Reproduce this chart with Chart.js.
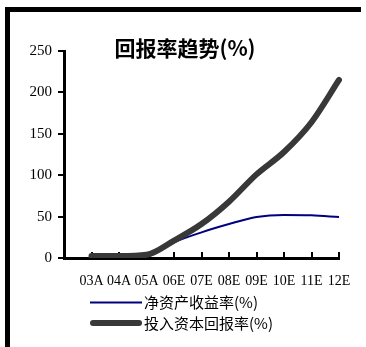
<!DOCTYPE html>
<html>
<head>
<meta charset="utf-8">
<script src="https://cdn.jsdelivr.net/npm/chart.js@4.4.1/dist/chart.umd.min.js"></script>
<style>
  html, body { margin: 0; padding: 0; background: #fff; overflow: hidden; }
  #wrap { position: relative; width: 366px; height: 347px; }
</style>
</head>
<body>
<div id="wrap"><canvas id="c" width="366" height="347"></canvas></div>
<script>
// Reporting years (A = actual, E = estimate)
const categories = ['03A', '04A', '05A', '06E', '07E', '08E', '09E', '10E', '11E', '12E'];
// Return on equity, %
const roe = [1.5, 1.5, 2, 19, 31, 41, 49.5, 52, 51.5, 49.5];
// Return on invested capital, %
const roic = [2.5, 2.5, 4, 21, 41, 68, 101, 128, 164, 215];
// Value axis ticks
const yTicks = [0, 50, 100, 150, 200, 250];
const seriesNames = ['净资产收益率(%)', '投入资本回报率(%)'];
const chartTitle = '回报率趋势(%)';

// A blank leading slot keeps the first year one step in from the value axis
const labels = [''].concat(categories);
const withLead = arr => [null].concat(arr);

const serif = '"Liberation Serif", "DejaVu Serif", serif';
const cjk = '"Noto Sans CJK SC", "Noto Sans", sans-serif';

const decor = {
  id: 'decor',
  beforeDraw(chart) {
    const ctx = chart.ctx;
    ctx.save();
    ctx.fillStyle = '#fff';
    ctx.fillRect(0, 0, chart.width, chart.height);
    // frame bars along the top and left edges
    ctx.fillStyle = '#000';
    ctx.fillRect(5, 7, 356, 5);
    ctx.fillRect(5, 7, 5, chart.height - 7);
    ctx.restore();
  },
  afterDraw(chart) {
    const ctx = chart.ctx;
    ctx.save();
    // title
    ctx.fillStyle = '#000';
    ctx.font = 'bold 21px ' + cjk;
    ctx.textAlign = 'center';
    ctx.textBaseline = 'middle';
    ctx.fillText(chartTitle, 185, 48);
    // legend, one entry per row
    const rows = [302.5, 323];
    chart.data.datasets.forEach((ds, i) => {
      const y = rows[i];
      ctx.beginPath();
      ctx.strokeStyle = ds.borderColor;
      ctx.lineWidth = ds.borderWidth;
      ctx.lineCap = ds.borderCapStyle || 'butt';
      const inset = ds.borderCapStyle === 'round' ? ds.borderWidth / 2 : 0;
      ctx.moveTo(90 + inset, y);
      ctx.lineTo(142 - inset, y);
      ctx.stroke();
      ctx.fillStyle = '#000';
      ctx.font = '15px ' + cjk;
      ctx.textAlign = 'left';
      ctx.textBaseline = 'middle';
      ctx.fillText(ds.label, 144, y);
    });
    ctx.restore();
  }
};

new Chart(document.getElementById('c'), {
  type: 'line',
  data: {
    labels: labels,
    datasets: [
      {
        label: seriesNames[0],
        data: withLead(roe),
        borderColor: '#000080',
        borderWidth: 2,
        pointRadius: 0,
        cubicInterpolationMode: 'monotone',
        fill: false,
        order: 1
      },
      {
        label: seriesNames[1],
        data: withLead(roic),
        borderColor: '#383838',
        borderWidth: 6,
        borderCapStyle: 'round',
        borderJoinStyle: 'round',
        pointRadius: 0,
        cubicInterpolationMode: 'monotone',
        fill: false,
        order: 0
      }
    ]
  },
  options: {
    responsive: false,
    devicePixelRatio: 1,
    animation: false,
    layout: { padding: { left: 0, right: 27, top: 51, bottom: 49 } },
    plugins: {
      legend: { display: false },
      title: { display: false },
      tooltip: { enabled: false }
    },
    scales: {
      x: {
        type: 'category',
        offset: false,
        grid: {
          display: true,
          drawOnChartArea: false,
          drawTicks: true,
          tickLength: -6,
          color: '#000',
          lineWidth: 2
        },
        border: { display: true, color: '#000', width: 3 },
        ticks: {
          color: '#000',
          font: { family: serif, size: 14 },
          padding: 21,
          maxRotation: 0,
          autoSkip: false
        },
        afterFit(scale) {
          scale.height = 40;
          scale.paddingLeft = 0;
          scale.paddingRight = 0;
        }
      },
      y: {
        min: 0,
        max: 250,
        afterBuildTicks(scale) { scale.ticks = yTicks.map(v => ({ value: v })); },
        grid: {
          display: true,
          drawOnChartArea: false,
          drawTicks: true,
          tickLength: 6,
          color: '#000',
          lineWidth: 2
        },
        border: { display: true, color: '#000', width: 3 },
        ticks: {
          color: '#000',
          font: { family: serif, size: 15 },
          padding: 6
        },
        afterFit(scale) { scale.width = 64; }
      }
    }
  },
  plugins: [decor]
});
</script>
</body>
</html>
